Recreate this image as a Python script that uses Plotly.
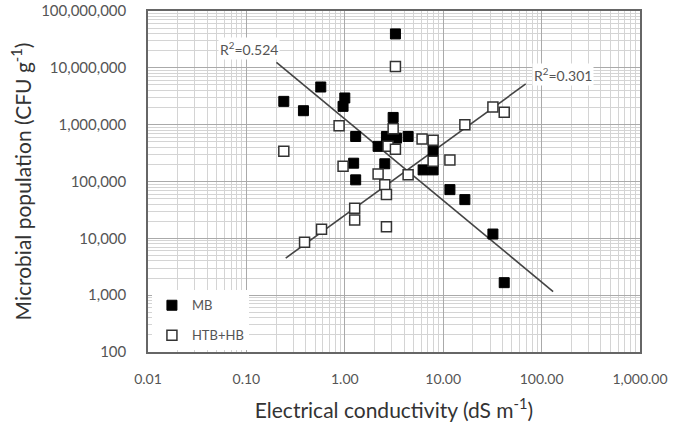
import plotly.graph_objects as go
import numpy as np

# MB (filled squares)
mb_ec = [0.24, 0.38, 0.57, 1.0, 0.96, 1.29, 2.18, 3.1, 3.27, 2.65, 3.35, 4.4,
         7.9, 6.25, 7.9, 11.7, 16.6, 1.23, 2.55, 1.29, 32, 41.7]
mb_pop = [2.57e6, 1.76e6, 4.6e6, 2.95e6, 2.1e6, 6.2e5, 4.15e5, 1.34e6, 3.95e7, 6.2e5, 5.8e5, 6.2e5,
          3.4e5, 1.6e5, 1.6e5, 7.2e4, 4.8e4, 2.1e5, 2.05e5, 1.07e5, 1.19e4, 1.66e3]

# HTB+HB (open squares)
htb_ec = [0.24, 0.875, 0.96, 3.27, 3.1, 2.75, 3.27, 6.1, 7.9, 7.9, 11.7, 2.18,
          4.4, 2.55, 2.65, 1.26, 1.26, 2.65, 0.39, 0.58, 16.6, 32, 41.7]
htb_pop = [3.4e5, 9.6e5, 1.85e5, 1.06e7, 8.5e5, 4.15e5, 3.7e5, 5.6e5, 5.3e5, 2.26e5, 2.4e5, 1.35e5,
           1.32e5, 8.8e4, 5.9e4, 3.4e4, 2.1e4, 1.6e4, 8.5e3, 1.45e4, 1.0e6, 2.05e6, 1.65e6]

# Power-law trend lines y = a * x^b, drawn over the x span
mb_trend = dict(a=1.26e6, b=-1.434, x=[0.202, 131])
htb_trend = dict(a=2.55e4, b=1.256, x=[0.251, 69])
r2_labels = ["R<sup>2</sup>=0.524", "R<sup>2</sup>=0.301"]

x_tickvals = [0.01, 0.1, 1, 10, 100, 1000]
x_ticktext = ["0.01", "0.10", "1.00", "10.00", "100.00", "1,000.00"]
y_tickvals = [1e2, 1e3, 1e4, 1e5, 1e6, 1e7, 1e8]
y_ticktext = ["100", "1,000", "10,000", "100,000", "1,000,000", "10,000,000", "100,000,000"]

FONT = "Lato, 'Open Sans', sans-serif"
TXT = "#555555"

def minor_vals(lo, hi):
    vals = []
    for e in range(lo, hi):
        for k in range(2, 10):
            vals.append(k * 10 ** e)
    return vals

def trend_xy(t):
    xs = np.logspace(np.log10(t["x"][0]), np.log10(t["x"][1]), 50)
    return xs, t["a"] * xs ** t["b"]

fig = go.Figure()

tx, ty = trend_xy(mb_trend)
fig.add_trace(go.Scatter(x=tx, y=ty, mode="lines", line=dict(color="#444444", width=1.6),
                         showlegend=False, hoverinfo="skip"))
tx2, ty2 = trend_xy(htb_trend)
fig.add_trace(go.Scatter(x=tx2, y=ty2, mode="lines", line=dict(color="#444444", width=1.6),
                         showlegend=False, hoverinfo="skip"))

fig.add_trace(go.Scatter(x=mb_ec, y=mb_pop, mode="markers", name="MB", legendgroup="a",
                         marker=dict(symbol="square", size=10, color="black",
                                     line=dict(color="black", width=1))))
fig.add_trace(go.Scatter(x=htb_ec, y=htb_pop, mode="markers", name="HTB+HB", legendgroup="b",
                         marker=dict(symbol="square", size=10, color="white",
                                     line=dict(color="#333333", width=1.5))))

# R² labels at the outer ends of the trend lines
fig.add_annotation(x=np.log10(tx[0]), y=np.log10(ty[0]), xref="x", yref="y",
                   text=r2_labels[0], showarrow=False, bgcolor="white",
                   xanchor="right", yanchor="bottom", xshift=4, yshift=2,
                   font=dict(family=FONT, size=14, color=TXT))
fig.add_annotation(x=np.log10(tx2[-1]), y=np.log10(ty2[-1]), xref="x", yref="y",
                   text=r2_labels[1], showarrow=False, bgcolor="white",
                   xanchor="left", yanchor="bottom", xshift=6, yshift=-2,
                   font=dict(family=FONT, size=14, color=TXT))

axis_common = dict(type="log", showline=True, linecolor="#666666", linewidth=1.5, mirror=True,
                   showgrid=True, gridcolor="#aaaaaa", gridwidth=1, zeroline=False,
                   automargin=False, ticks="")

fig.update_xaxes(**axis_common, range=[-2, 3], tickvals=x_tickvals, ticktext=x_ticktext,
                 ticklabelstandoff=13, tickfont=dict(family=FONT, size=14, color=TXT),
                 minor=dict(tickvals=minor_vals(-2, 3), showgrid=True, gridcolor="#d4d4d4", gridwidth=1),
                 title=dict(text="Electrical conductivity (dS m<sup>-1</sup>)",
                            font=dict(family=FONT, size=21, color="#333333"), standoff=18))
fig.update_yaxes(**axis_common, range=[2, 8], tickvals=y_tickvals, ticktext=y_ticktext,
                 ticklabelstandoff=17, tickfont=dict(family=FONT, size=15, color=TXT),
                 minor=dict(tickvals=minor_vals(2, 8), showgrid=True, gridcolor="#d4d4d4", gridwidth=1),
                 title=dict(text="Microbial population (CFU g<sup>-1</sup>)",
                            font=dict(family=FONT, size=21, color="#333333"), standoff=4))

fig.update_layout(
    width=678, height=429,
    margin=dict(l=148, r=38, t=11, b=77),
    paper_bgcolor="white", plot_bgcolor="white",
    showlegend=True,
    legend=dict(x=0.008, y=0.005, xanchor="left", yanchor="bottom", bgcolor="white",
                font=dict(family=FONT, size=13, color=TXT), itemwidth=30,
                traceorder="grouped", tracegroupgap=10),
)

fig.write_html("out.html")
